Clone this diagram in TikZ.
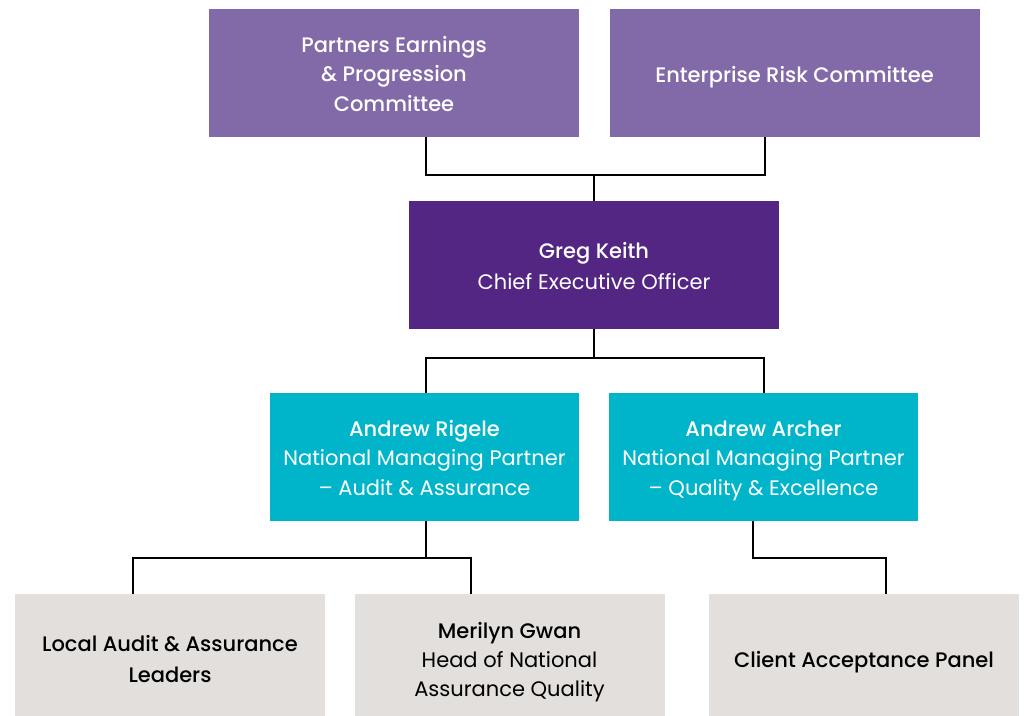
\documentclass[tikz,border=0pt]{standalone}
\usepackage{fontspec}
\setmainfont{Poppins}[BoldFont={Poppins Medium}]
\definecolor{lilac}{HTML}{826AA8}
\definecolor{plum}{HTML}{522682}
\definecolor{teal2}{HTML}{00B5CA}
\definecolor{stone}{HTML}{E2DFDC}
\newcommand\bs{\rule[-6pt]{0pt}{30pt}}
\begin{document}
\begin{tikzpicture}[x=1pt,y=-1pt,
  box/.style={rectangle,inner sep=0pt,align=center,font=\fontsize{21}{29}\selectfont},
  top/.style={box,fill=lilac,text=white,minimum width=370pt,minimum height=128pt},
  ceo/.style={box,fill=plum,text=white,minimum width=370pt,minimum height=128pt},
  mid/.style={box,fill=teal2,text=white,minimum width=309pt,minimum height=128pt},
  low/.style={box,fill=stone,text=black,minimum width=310pt,minimum height=128pt},
  link/.style={draw=black,line width=1.6pt}]
\useasboundingbox (0,0) rectangle (1024,715);
\clip (0,0) rectangle (1024,715);
\node[top] (pepc) at (394,73) {\bs\bfseries Partners Earnings\\\bfseries \& Progression\\\bfseries Committee\bs};
\node[top] (erc) at (794.5,73) {\bs\bfseries Enterprise Risk Committee\bs};
\node[ceo] (ceo) at (594,265) {\bs\bfseries Greg Keith\\Chief Executive Officer\bs};
\node[mid] (ar) at (424.5,457) {\bs\bfseries Andrew Rigele\\National Managing Partner\\– Audit \& Assurance\bs};
\node[mid] (aa) at (763.5,457) {\bs\bfseries Andrew Archer\\National Managing Partner\\– Quality \& Excellence\bs};
\node[low] (local) at (170,658) {\bs\bfseries Local Audit \& Assurance\\\bfseries Leaders\bs};
\node[low] (mg) at (509.5,658) {\bs\bfseries Merilyn Gwan\\Head of National\\Assurance Quality\bs};
\node[low] (cap) at (864,658) {\bs\bfseries Client Acceptance Panel\bs};
% top committees to CEO
\coordinate (j1) at (594,175);
\draw[link] (pepc.south -| 426,0) |- (j1) -| (erc.south -| 765,0);
\draw[link] (j1) -- (ceo.north);
% CEO to NMPs
\coordinate (j2) at (594,358);
\draw[link] (ceo.south) -- (j2);
\draw[link] (ar.north -| 426,0) |- (j2) -| (aa.north -| 764,0);
% Rigele to lower
\coordinate (j3) at (426,558);
\draw[link] (ar.south -| 426,0) -- (j3);
\draw[link] (local.north -| 133,0) |- (j3) -| (mg.north -| 471,0);
% Archer to CAP
\coordinate (j4) at (753,558);
\draw[link] (aa.south -| 753,0) |- (886,558) -- (cap.north -| 886,0);
\end{tikzpicture}
\end{document}
